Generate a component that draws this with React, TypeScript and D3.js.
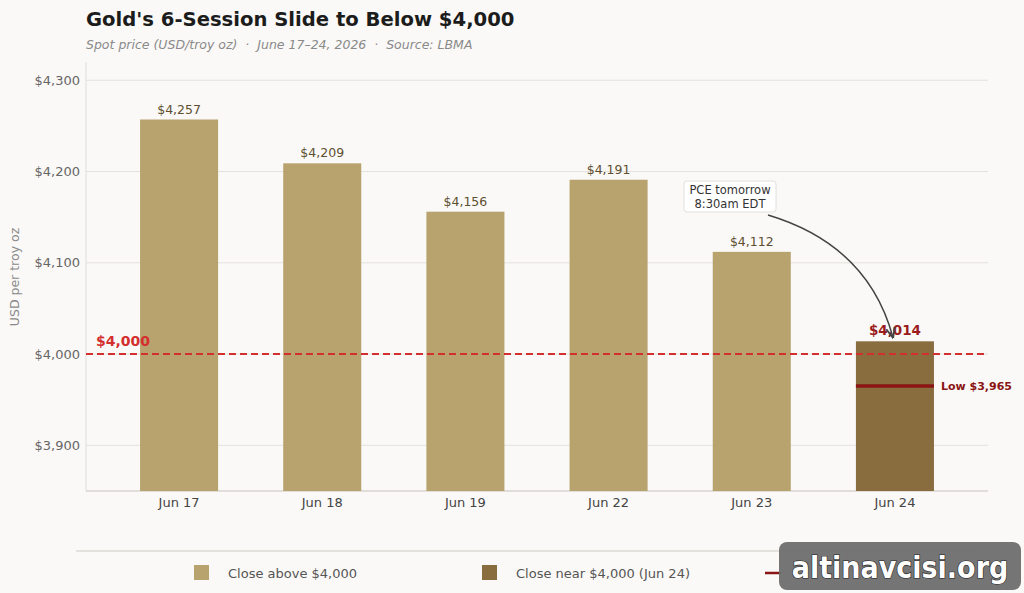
import React from "react";
import { scaleLinear, scalePoint } from "d3";

const sessions = ["Jun 17", "Jun 18", "Jun 19", "Jun 22", "Jun 23", "Jun 24"];
const closes = [4257, 4209, 4156, 4191, 4112, 4014];
const yTicks = [3900, 4000, 4100, 4200, 4300];
const threshold = 4000;
const sessionLow = 3965;

const W = 1024;
const H = 593;
const left = 86;
const right = 988;
const top = 62;
const bottom = 491;

const LIGHT = "#b8a26e";
const DARK = "#8a6d3e";
const RED = "#d32f2f";
const DEEP = "#9b1c1c";
const FONT = "DejaVu Sans, sans-serif";

const fmt = (v: number) => "$" + v.toLocaleString("en-US");

const App: React.FC = () => {
  const x = scalePoint<string>().domain(sessions).range([left, right]).padding(0.65);
  const y = scaleLinear().domain([3850, 4320]).range([bottom, top]);
  const barW = x.step() * 0.545;
  const last = sessions.length - 1;
  const lastX = x(sessions[last]) as number;

  // curved arrow from the PCE note down to the last bar
  const ax0 = 768;
  const ay0 = 215;
  const ax1 = lastX - 2;
  const ay1 = y(closes[last]) - 4;
  const arrowPath = `M${ax0},${ay0} Q${ax1 - 25},${ay0 + 30} ${ax1},${ay1}`;

  return (
    <svg width={W} height={H} style={{ display: "block", position: "absolute", left: 0, top: 0 }} fontFamily={FONT}>
      <defs>
        <marker id="ah" viewBox="0 0 10 10" refX="9" refY="5" markerWidth="7" markerHeight="7" orient="auto">
          <path d="M0,1 L10,5 L0,9" fill="none" stroke="#444" strokeWidth="1.6" />
        </marker>
      </defs>
      <rect width={W} height={H} fill="#faf9f7" />

      <text x={86} y={26} fontSize={19.6} fontWeight="bold" fill="#1c1c1c">
        Gold's 6-Session Slide to Below $4,000
      </text>
      <text x={86} y={49} fontSize={12.5} fontStyle="italic" fill="#8a8a8a" style={{ whiteSpace: "pre" }}>
        {"Spot price (USD/troy oz)  ·  June 17–24, 2026  ·  Source: LBMA"}
      </text>

      {yTicks.map((t) => (
        <g key={t}>
          <line x1={left} x2={right} y1={y(t)} y2={y(t)} stroke="#e4e2de" strokeWidth={1} />
          <text x={80} y={y(t)} dy="0.35em" textAnchor="end" fontSize={13} fill="#666">
            {fmt(t)}
          </text>
        </g>
      ))}
      <line x1={left} x2={left} y1={top} y2={bottom} stroke="#e0ddd8" />
      <line x1={left} x2={right} y1={bottom} y2={bottom} stroke="#d8d5d0" strokeWidth={1.5} />

      <text transform={`translate(19,277) rotate(-90)`} textAnchor="middle" fontSize={12.5} fill="#8a8a8a">
        USD per troy oz
      </text>

      {sessions.map((s, i) => {
        const cx = x(s) as number;
        const isLast = i === last;
        return (
          <g key={s}>
            <rect x={cx - barW / 2} y={y(closes[i])} width={barW} height={bottom - y(closes[i])} fill={isLast ? DARK : LIGHT} />
            <text
              x={cx}
              y={y(closes[i]) - 6}
              textAnchor="middle"
              fontSize={isLast ? 13.5 : 12.5}
              fontWeight={isLast ? "bold" : "normal"}
              fill={isLast ? DEEP : "#5e4f30"}
            >
              {fmt(closes[i])}
            </text>
            <text x={cx} y={507} textAnchor="middle" fontSize={13} fill="#444">
              {s}
            </text>
          </g>
        );
      })}

      <line x1={left} x2={right} y1={y(threshold)} y2={y(threshold)} stroke={RED} strokeWidth={2} strokeDasharray="7,4" />
      <text x={96} y={y(threshold) - 8} fontSize={14} fontWeight="bold" fill={RED}>
        {fmt(threshold)}
      </text>

      <line x1={lastX - barW / 2} x2={lastX + barW / 2} y1={y(sessionLow)} y2={y(sessionLow)} stroke="#8b1414" strokeWidth={3.5} />
      <text x={941} y={y(sessionLow)} dy="0.35em" fontSize={11} fontWeight="bold" fill="#8b1414">
        Low {fmt(sessionLow)}
      </text>

      <path d={arrowPath} fill="none" stroke="#444" strokeWidth={1.5} markerEnd="url(#ah)" />
      <rect x={684} y={181} width={92} height={31} rx={3} fill="#fff" stroke="#e2e0dc" />
      <text x={730} y={194} textAnchor="middle" fontSize={11.5} fill="#333">PCE tomorrow</text>
      <text x={730} y={208} textAnchor="middle" fontSize={11.5} fill="#333">8:30am EDT</text>

      <line x1={76} x2={978} y1={551} y2={551} stroke="#dddad5" strokeWidth={1.5} />
      <rect x={194} y={565} width={15} height={15} fill={LIGHT} />
      <text x={228} y={573} dy="0.35em" fontSize={13} fill="#555">
        Close above $4,000
      </text>
      <rect x={482} y={565} width={15} height={15} fill={DARK} />
      <text x={516} y={573} dy="0.35em" fontSize={13} fill="#555">
        Close near $4,000 (Jun 24)
      </text>
      <line x1={765} x2={781} y1={573} y2={573} stroke="#8b1414" strokeWidth={2.5} />

      <rect x={779} y={542} width={242} height={48} rx={8} fill="#6e6e6e" opacity={0.95} />
      <text
        x={900}
        y={567}
        dy="0.35em"
        textAnchor="middle"
        fontSize={30}
        fontWeight="bold"
        fill="#fff"
        stroke="#222"
        strokeWidth={1.2}
        paintOrder="stroke"
        fontFamily="DejaVu Sans Condensed, DejaVu Sans, sans-serif"
      >
        altinavcisi.org
      </text>
    </svg>
  );
};

export default App;
